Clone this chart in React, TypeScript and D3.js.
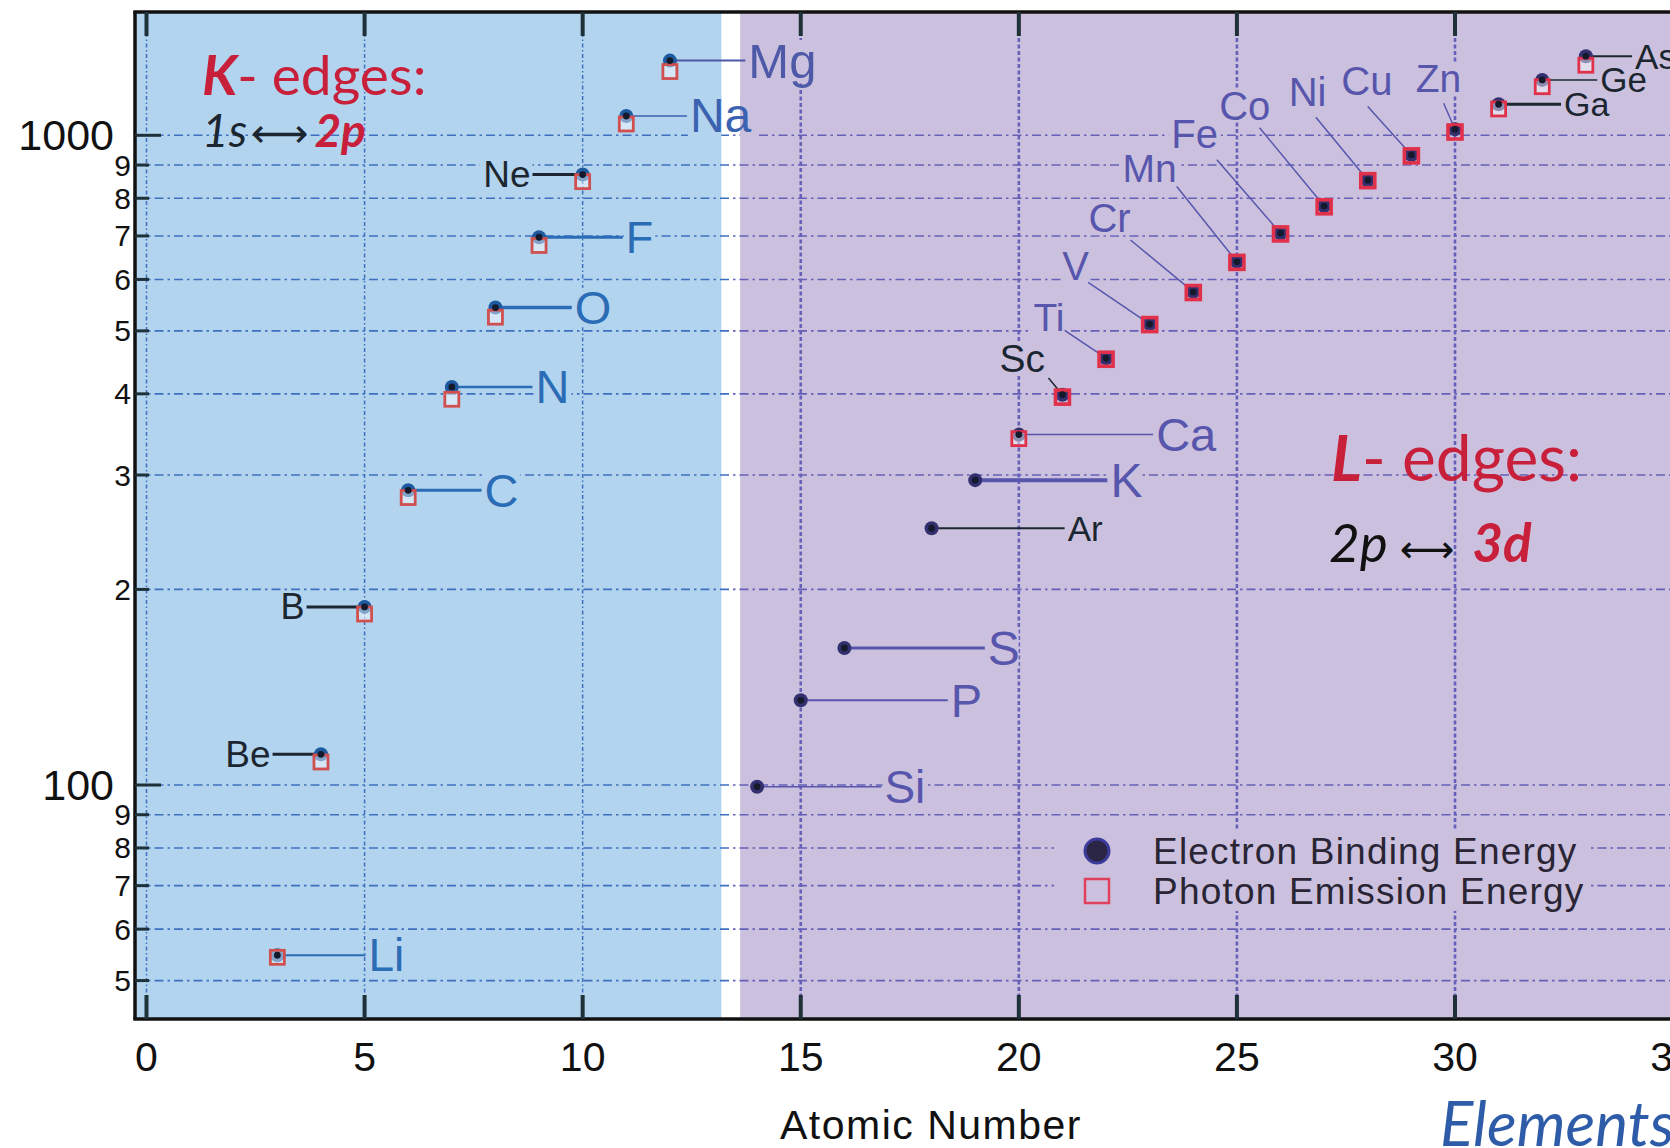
import { useEffect } from "react";
import * as d3 from "d3";

// element data: K-edges (Li..Mg) and L3-edges (Si..As), energies in eV
const symbols = ["Li", "Be", "B", "C", "N", "O", "F", "Ne", "Na", "Mg",
  "Si", "P", "S", "Ar", "K", "Ca", "Sc", "Ti", "V", "Cr", "Mn", "Fe", "Co", "Ni", "Cu", "Zn", "Ga", "Ge", "As"];
const atomicNumbers = [3, 4, 5, 6, 7, 8, 9, 10, 11, 12,
  14, 15, 16, 18, 19, 20, 21, 22, 23, 24, 25, 26, 27, 28, 29, 30, 31, 32, 33];
const bindingEnergy = [54.7, 111.5, 188, 284.2, 409.9, 543.1, 696.7, 870.2, 1070.8, 1303,
  99.4, 135, 162.5, 248.4, 294.6, 346.2, 398.7, 453.8, 512.1, 574.1, 638.7, 706.8, 778.1, 852.7, 932.7, 1021.8, 1116.4, 1217, 1323.6];
const emissionEnergy: (number | null)[] = [54.3, 108.5, 183.3, 277, 392.4, 524.9, 676.8, 848.6, 1041, 1253.6,
  null, null, null, null, null, 341.3, 395.4, 452.2, 511.3, 572.8, 637.4, 705, 776.2, 851.5, 929.7, 1011.7, 1097.9, 1188, 1282];

const xTicks = [0, 5, 10, 15, 20, 25, 30, 35];
const yTicks = [50, 60, 70, 80, 90, 100, 200, 300, 400, 500, 600, 700, 800, 900, 1000];
const kRegionEnd = 13.18;
const lRegionStart = 13.61;

// label placement (layout, in data units)
type Lab = { kind: "right" | "left" | "diag"; z: number; e?: number; lz?: number; le?: number; size: number; color: string; lw: number };
const BLUE = "#2b6cb6";
const PURP = "#5756ac";
const DARK = "#1c2630";
const labels: Lab[] = [
  { kind: "right", z: 5.02, size: 46, color: BLUE, lw: 2 },
  { kind: "left", z: 2.89, size: 37, color: DARK, lw: 3 },
  { kind: "left", z: 3.67, size: 36, color: DARK, lw: 3 },
  { kind: "right", z: 7.68, size: 47, color: BLUE, lw: 3 },
  { kind: "right", z: 8.85, size: 47, color: BLUE, lw: 2.5 },
  { kind: "right", z: 9.75, size: 47, color: BLUE, lw: 3.5 },
  { kind: "right", z: 10.92, size: 45, color: BLUE, lw: 3 },
  { kind: "left", z: 8.85, size: 37, color: DARK, lw: 3 },
  { kind: "right", z: 12.39, size: 48, color: "#3a62b0", lw: 1.5 },
  { kind: "right", z: 13.73, size: 49, color: "#4e59a8", lw: 2 },
  { kind: "right", z: 16.85, size: 46, color: PURP, lw: 1.5 },
  { kind: "right", z: 18.37, size: 47, color: PURP, lw: 2 },
  { kind: "right", z: 19.22, size: 48, color: PURP, lw: 3 },
  { kind: "right", z: 21.05, size: 35, color: DARK, lw: 2 },
  { kind: "right", z: 22.03, size: 48, color: PURP, lw: 4 },
  { kind: "right", z: 23.08, size: 47, color: PURP, lw: 1.5 },
  { kind: "diag", z: 20.08, e: 454, lz: 20.68, le: 423, size: 39, color: DARK, lw: 1.5 },
  { kind: "diag", z: 20.69, e: 525, lz: 21.05, le: 501, size: 39, color: PURP, lw: 1.5 },
  { kind: "diag", z: 21.3, e: 629, lz: 21.59, le: 594, size: 40, color: PURP, lw: 1.5 },
  { kind: "diag", z: 22.08, e: 745, lz: 22.56, le: 690, size: 40, color: PURP, lw: 1.5 },
  { kind: "diag", z: 23.0, e: 890, lz: 23.62, le: 834, size: 39, color: PURP, lw: 1.5 },
  { kind: "diag", z: 24.03, e: 1004, lz: 24.54, le: 917, size: 40, color: PURP, lw: 1.5 },
  { kind: "diag", z: 25.18, e: 1111, lz: 25.52, le: 1027, size: 40, color: PURP, lw: 1.5 },
  { kind: "diag", z: 26.62, e: 1167, lz: 26.81, le: 1066, size: 40, color: PURP, lw: 1.5 },
  { kind: "diag", z: 27.98, e: 1212, lz: 28.0, le: 1107, size: 40, color: PURP, lw: 1.5 },
  { kind: "diag", z: 29.62, e: 1222, lz: 29.74, le: 1120, size: 39, color: PURP, lw: 1.5 },
  { kind: "right", z: 32.43, size: 34, color: DARK, lw: 3 },
  { kind: "right", z: 33.26, size: 35, color: DARK, lw: 1.5 },
  { kind: "right", z: 34.06, size: 35, color: DARK, lw: 2 },
];

const W = 1670;
const H = 1148;
const plotLeft = 135;
const plotTop = 12;
const plotBottom = 1019;
const BG_K = "#b3d4ee";
const BG_L = "#cbc1df";

const x = d3.scaleLinear().domain([0, 30]).range([146.5, 1455]);
const y = d3.scaleLog().domain([100, 1000]).range([785, 135.3]);

const SANS = "'Liberation Sans', Arial, sans-serif";
const CAL = "Lato, 'Open Sans', sans-serif";

function textWidth(s: string, size: number) {
  const w: Record<string, number> = { M: 0.833, N: 0.722, C: 0.722, O: 0.778, G: 0.778, i: 0.222, l: 0.222, r: 0.333, F: 0.611, T: 0.611, Z: 0.611 };
  return s.split("").reduce((a, c) => a + (w[c] ?? 0.6), 0) * size;
}

function App() {
  useEffect(() => {
    document.body.style.margin = "0";
    document.body.style.overflow = "hidden";
  }, []);

  const xK = x(kRegionEnd);
  const xL = x(lRegionStart);
  const xMid = (xK + xL) / 2;

  const points = symbols.map((s, i) => ({
    s,
    z: atomicNumbers[i],
    b: bindingEnergy[i],
    em: emissionEnergy[i],
    lab: labels[i],
    k: atomicNumbers[i] <= 12,
  }));

  const labelBox = (p: (typeof points)[number]) => {
    const L = p.lab;
    const w = textWidth(p.s, L.size);
    let tx: number, ty: number;
    if (L.kind === "diag") {
      tx = x(L.z) - w / 2;
      ty = y(L.e!);
    } else if (L.kind === "left") {
      tx = x(L.z) - 2 - w;
      ty = y(p.b);
    } else {
      tx = x(L.z) + 3;
      ty = y(p.b);
    }
    return { x: tx - 2, y: ty - L.size * 0.42, w: w + 4, h: L.size * 0.84 };
  };

  const grid = (color: string, vw: number, vDash: string) => (
    <g>
      {yTicks.map((t) => (
        <line key={"h" + t} x1={plotLeft} x2={W} y1={y(t)} y2={y(t)} stroke={color} strokeWidth={1.6} strokeDasharray="9,4,2.5,4" />
      ))}
      {xTicks.map((t) => (
        <line key={"v" + t} x1={x(t)} x2={x(t)} y1={plotTop} y2={plotBottom} stroke={color} strokeWidth={vw} strokeDasharray={vDash} />
      ))}
    </g>
  );

  return (
    <svg width={W} height={H} style={{ position: "absolute", left: 0, top: 0, background: "#fff" }}>
      <defs>
        <clipPath id="clipK">
          <rect x={plotLeft} y={plotTop} width={xMid - plotLeft} height={plotBottom - plotTop} />
        </clipPath>
        <clipPath id="clipL">
          <rect x={xMid} y={plotTop} width={W - xMid} height={plotBottom - plotTop} />
        </clipPath>
        <clipPath id="clipKbg">
          <rect x={plotLeft} y={plotTop} width={xK - plotLeft} height={plotBottom - plotTop} />
        </clipPath>
        <clipPath id="clipLbg">
          <rect x={xL} y={plotTop} width={W - xL} height={plotBottom - plotTop} />
        </clipPath>
      </defs>

      {/* region backgrounds */}
      <rect x={plotLeft} y={plotTop} width={xK - plotLeft} height={plotBottom - plotTop} fill={BG_K} />
      <rect x={xL} y={plotTop} width={W - xL} height={plotBottom - plotTop} fill={BG_L} />

      <g clipPath="url(#clipK)">{grid("#3f70c0", 1.5, "4,2.5,1.5,2.5")}</g>
      <g clipPath="url(#clipL)">{grid("#6660b8", 2.6, "4,2.5")}</g>

      {/* legend box hides grid */}
      <rect x={1054} y={829} width={533} height={82} fill={BG_L} />

      {/* label backgrounds */}
      {[
        { clip: "url(#clipKbg)", fill: BG_K },
        { clip: "url(#clipLbg)", fill: BG_L },
      ].map((r) => (
        <g key={r.fill} clipPath={r.clip}>
          {points.map((p) => {
            const b = labelBox(p);
            return <rect key={"bg" + p.s} x={b.x} y={b.y} width={b.w} height={b.h} fill={r.fill} />;
          })}
        </g>
      ))}

      {/* leaders and labels */}
      {points.map((p) => {
        const L = p.lab;
        if (L.kind === "diag") {
          return (
            <g key={"l" + p.s}>
              <line x1={x(L.lz!)} y1={y(L.le!)} x2={x(p.z)} y2={y(p.b)} stroke={L.color} strokeWidth={L.lw} />
              <text x={x(L.z)} y={y(L.e!)} textAnchor="middle" dominantBaseline="central" fontFamily={SANS} fontSize={L.size} fill={L.color}>{p.s}</text>
            </g>
          );
        }
        if (L.kind === "left") {
          return (
            <g key={"l" + p.s}>
              <line x1={x(L.z)} y1={y(p.b)} x2={x(p.z)} y2={y(p.b)} stroke={L.color} strokeWidth={L.lw} />
              <text x={x(L.z) - 2} y={y(p.b)} textAnchor="end" dominantBaseline="central" fontFamily={SANS} fontSize={L.size} fill={L.color}>{p.s}</text>
            </g>
          );
        }
        return (
          <g key={"l" + p.s}>
            <line x1={x(p.z)} y1={y(p.b)} x2={x(L.z)} y2={y(p.b)} stroke={L.color} strokeWidth={L.lw} />
            <text x={x(L.z) + 3} y={y(p.b)} dominantBaseline="central" fontFamily={SANS} fontSize={L.size} fill={L.color}>{p.s}</text>
          </g>
        );
      })}

      {/* markers */}
      {points.map((p) => {
        const tm = p.z >= 21 && p.z <= 30;
        return (
          <g key={"m" + p.s}>
            <circle cx={x(p.z)} cy={y(p.b)} r={7} fill={p.k ? "#1d5aa0" : "#343070"} />
            {p.em !== null && (
              <rect x={x(p.z) - 7} y={y(p.em) - 7} width={14} height={14}
                fill={tm ? "none" : "rgba(255,255,255,0.45)"}
                stroke={p.k ? "#d0504f" : "#e0304a"} strokeWidth={tm ? 3.6 : 2.8} />
            )}
            <circle cx={x(p.z)} cy={y(p.b)} r={3.4} fill="#141a2c" />
          </g>
        );
      })}

      {/* frame */}
      <line x1={plotLeft - 1.75} x2={W} y1={plotTop} y2={plotTop} stroke="#111" strokeWidth={3.5} />
      <line x1={plotLeft - 1.75} x2={W} y1={plotBottom} y2={plotBottom} stroke="#111" strokeWidth={3.5} />
      <line x1={plotLeft} x2={plotLeft} y1={plotTop} y2={plotBottom} stroke="#111" strokeWidth={3.5} />
      {xTicks.map((t) => (
        <g key={"xt" + t}>
          <line x1={x(t)} x2={x(t)} y1={plotTop} y2={plotTop + 24} stroke="#1e3038" strokeWidth={4} />
          <line x1={x(t)} x2={x(t)} y1={plotBottom - 24} y2={plotBottom} stroke="#1e3038" strokeWidth={4} />
          <text x={x(t)} y={1071} textAnchor="middle" fontFamily={SANS} fontSize={41} fill="#111">{t}</text>
        </g>
      ))}
      {yTicks.map((t) => {
        const major = Math.abs(Math.log10(t) % 1) < 1e-9;
        const lbl = major ? String(t) : String(t / Math.pow(10, Math.floor(Math.log10(t))));
        return (
          <g key={"yt" + t}>
            <line x1={plotLeft} x2={plotLeft + (major ? 26 : 14)} y1={y(t)} y2={y(t)} stroke="#1e3038" strokeWidth={3} />
            <text x={major ? 114 : 131} y={y(t)} textAnchor="end" dominantBaseline="central" fontFamily={SANS}
              fontSize={major ? 43 : 30} fill="#111">{lbl}</text>
          </g>
        );
      })}

      {/* annotations */}
      <text x={202} y={95} fontFamily={CAL} fontSize={55} fill="#c8203a">
        <tspan fontWeight="bold" fontStyle="italic">K</tspan>
        <tspan>- edges:</tspan>
      </text>
      <text x={202} y={147} fontFamily={CAL} fontSize={46} fill="#1c2630">
        <tspan fontStyle="italic">1s</tspan>
        <tspan fontFamily="'DejaVu Sans'" fontSize={40} dx={4}>⟷</tspan>
        <tspan fontWeight="bold" fontStyle="italic" fill="#c8203a" dx={6}>2p</tspan>
      </text>
      <text x={1331} y={481} fontFamily={CAL} fontSize={64} fill="#c8203a">
        <tspan fontWeight="bold" fontStyle="italic">L</tspan>
        <tspan>- edges:</tspan>
      </text>
      <text x={1329} y={562} fontFamily={CAL} fontSize={53} fill="#111">
        <tspan fontStyle="italic">2p</tspan>
        <tspan fontFamily="'DejaVu Sans'" fontSize={38} dx={12}>⟷</tspan>
        <tspan fontWeight="bold" fontStyle="italic" fill="#c8203a" dx={18}>3d</tspan>
      </text>

      {/* legend */}
      <circle cx={1097} cy={851} r={12} fill="#2a2545" stroke="#3c3a9a" strokeWidth={3} />
      <text x={1153} y={851} dominantBaseline="central" fontFamily={SANS} fontSize={37} letterSpacing={1.2} fill="#2a2535">Electron Binding Energy</text>
      <rect x={1085} y={879} width={24} height={24} fill="none" stroke="#e0405a" strokeWidth={2.5} />
      <text x={1153} y={891} dominantBaseline="central" fontFamily={SANS} fontSize={37} letterSpacing={1.2} fill="#2a2535">Photon Emission Energy</text>

      {/* axis titles */}
      <text x={931} y={1139} textAnchor="middle" fontFamily={SANS} fontSize={41} letterSpacing={1.5} fill="#111">Atomic Number</text>
      <text x={1440} y={1146} fontFamily={CAL} fontStyle="italic" fontSize={62} fill="#2e5ca8">Elements</text>
    </svg>
  );
}

export default App;
